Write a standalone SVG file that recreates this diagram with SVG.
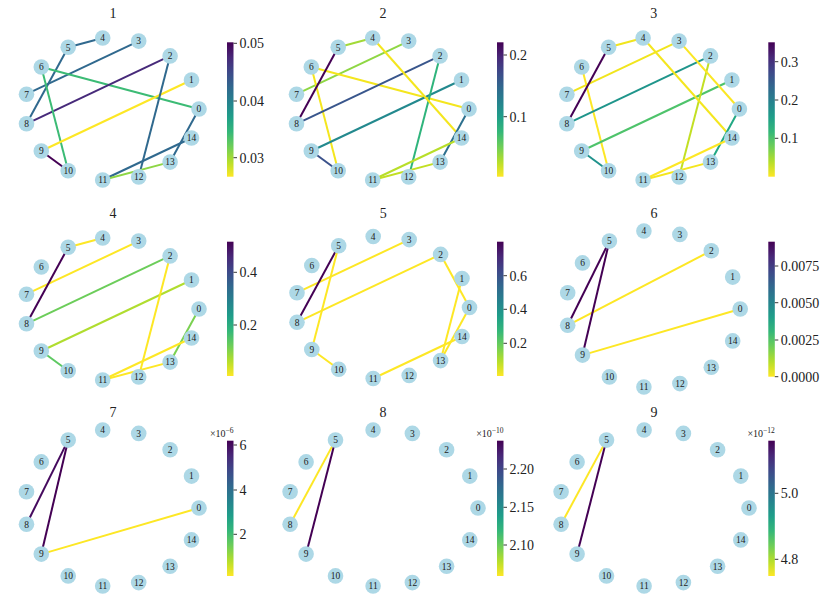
<svg xmlns="http://www.w3.org/2000/svg" width="830" height="602" viewBox="0 0 830 602">
<defs>
<linearGradient id="vir" x1="0" y1="0" x2="0" y2="1">
<stop offset="0" stop-color="#440154"/><stop offset="0.111" stop-color="#482878"/><stop offset="0.222" stop-color="#3e4989"/><stop offset="0.333" stop-color="#31688e"/><stop offset="0.444" stop-color="#26828e"/><stop offset="0.556" stop-color="#1f9e89"/><stop offset="0.667" stop-color="#35b779"/><stop offset="0.778" stop-color="#6ece58"/><stop offset="0.889" stop-color="#b5de2b"/><stop offset="1" stop-color="#fde725"/>
</linearGradient>
<style>
.node circle{fill:#add8e6}
.node text{font-family:"Liberation Serif","DejaVu Serif",serif;font-size:9.5px;fill:#222;text-anchor:middle}
.edges line{stroke-width:2;stroke-linecap:butt}
.title{font-family:"Liberation Serif","DejaVu Serif",serif;font-size:14px;fill:#222;text-anchor:middle}
.cbar text{font-family:"Liberation Serif","DejaVu Serif",serif;font-size:14px;fill:#222}
.cbar .tick{stroke:#222;stroke-width:0.9;fill:none}
.cbar text.off{font-size:10px;text-anchor:end}
</style>
</defs>
<rect width="830" height="602" fill="#fff"/>

<text class="title" x="113" y="18.3">1</text>
<text class="title" x="383" y="18.3">2</text>
<text class="title" x="653.7" y="18.3">3</text>
<text class="title" x="113" y="217.7">4</text>
<text class="title" x="383.3" y="217.7">5</text>
<text class="title" x="654" y="217.7">6</text>
<text class="title" x="113" y="416.7">7</text>
<text class="title" x="383" y="416.7">8</text>
<text class="title" x="654" y="416.7">9</text>

<!-- Panel 1 -->
<g id="panel1" transform="translate(111.8,109)">
<g id="p1-edges" class="edges">
<line x1="-9.1" y1="-71" x2="-43.6" y2="-61.8" stroke="#30698e"/>
<line x1="26.9" y1="-67.9" x2="-85.3" y2="-14.8" stroke="#30698e"/>
<line x1="-43.6" y1="-61.8" x2="-85.3" y2="14.8" stroke="#30698e"/>
<line x1="-70.5" y1="-42" x2="87.2" y2="0" stroke="#3cbb75"/>
<line x1="58.3" y1="-53.1" x2="-85.3" y2="14.8" stroke="#472a7a"/>
<line x1="-70.5" y1="-42" x2="-43.6" y2="61.8" stroke="#3cbb75"/>
<line x1="79.7" y1="-29" x2="-70.5" y2="42" stroke="#fde725"/>
<line x1="-70.5" y1="42" x2="-43.6" y2="61.8" stroke="#440154"/>
<line x1="58.3" y1="-53.1" x2="26.9" y2="67.9" stroke="#30698e"/>
<line x1="87.2" y1="0" x2="58.3" y2="53.1" stroke="#30698e"/>
<line x1="79.7" y1="29" x2="-9.1" y2="71" stroke="#30698e"/>
<line x1="-9.1" y1="71" x2="58.3" y2="53.1" stroke="#8ed645"/>
</g>
<g id="p1-n0" class="node"><circle cx="87.2" cy="0" r="7.8"/><text x="87.2" y="3.3">0</text></g>
<g id="p1-n1" class="node"><circle cx="79.7" cy="-29" r="7.8"/><text x="79.7" y="-25.7">1</text></g>
<g id="p1-n2" class="node"><circle cx="58.3" cy="-53.1" r="7.8"/><text x="58.3" y="-49.8">2</text></g>
<g id="p1-n3" class="node"><circle cx="26.9" cy="-67.9" r="7.8"/><text x="26.9" y="-64.6">3</text></g>
<g id="p1-n4" class="node"><circle cx="-9.1" cy="-71" r="7.8"/><text x="-9.1" y="-67.7">4</text></g>
<g id="p1-n5" class="node"><circle cx="-43.6" cy="-61.8" r="7.8"/><text x="-43.6" y="-58.5">5</text></g>
<g id="p1-n6" class="node"><circle cx="-70.5" cy="-42" r="7.8"/><text x="-70.5" y="-38.7">6</text></g>
<g id="p1-n7" class="node"><circle cx="-85.3" cy="-14.8" r="7.8"/><text x="-85.3" y="-11.5">7</text></g>
<g id="p1-n8" class="node"><circle cx="-85.3" cy="14.8" r="7.8"/><text x="-85.3" y="18.1">8</text></g>
<g id="p1-n9" class="node"><circle cx="-70.5" cy="42" r="7.8"/><text x="-70.5" y="45.3">9</text></g>
<g id="p1-n10" class="node"><circle cx="-43.6" cy="61.8" r="7.8"/><text x="-43.6" y="65.1">10</text></g>
<g id="p1-n11" class="node"><circle cx="-9.1" cy="71" r="7.8"/><text x="-9.1" y="74.3">11</text></g>
<g id="p1-n12" class="node"><circle cx="26.9" cy="67.9" r="7.8"/><text x="26.9" y="71.2">12</text></g>
<g id="p1-n13" class="node"><circle cx="58.3" cy="53.1" r="7.8"/><text x="58.3" y="56.4">13</text></g>
<g id="p1-n14" class="node"><circle cx="79.7" cy="29" r="7.8"/><text x="79.7" y="32.3">14</text></g>
</g>

<!-- Panel 2 -->
<g id="panel2" transform="translate(381.8,109)">
<g id="p2-edges" class="edges">
<line x1="-9.1" y1="-71" x2="-43.6" y2="-61.8" stroke="#a2da37"/>
<line x1="26.9" y1="-67.9" x2="-85.3" y2="-14.8" stroke="#8fd744"/>
<line x1="-70.5" y1="-42" x2="87.2" y2="0" stroke="#f4e61e"/>
<line x1="-70.5" y1="-42" x2="-43.6" y2="61.8" stroke="#f4e61e"/>
<line x1="-43.6" y1="-61.8" x2="-85.3" y2="14.8" stroke="#440154"/>
<line x1="58.3" y1="-53.1" x2="-85.3" y2="14.8" stroke="#39568c"/>
<line x1="79.7" y1="-29" x2="-70.5" y2="42" stroke="#23898e"/>
<line x1="-70.5" y1="42" x2="-43.6" y2="61.8" stroke="#3b528b"/>
<line x1="58.3" y1="-53.1" x2="26.9" y2="67.9" stroke="#2fb47c"/>
<line x1="-9.1" y1="-71" x2="79.7" y2="29" stroke="#f4e61e"/>
<line x1="87.2" y1="0" x2="58.3" y2="53.1" stroke="#2d708e"/>
<line x1="79.7" y1="29" x2="-9.1" y2="71" stroke="#b8de29"/>
<line x1="-9.1" y1="71" x2="58.3" y2="53.1" stroke="#c2df23"/>
</g>
<g id="p2-n0" class="node"><circle cx="87.2" cy="0" r="7.8"/><text x="87.2" y="3.3">0</text></g>
<g id="p2-n1" class="node"><circle cx="79.7" cy="-29" r="7.8"/><text x="79.7" y="-25.7">1</text></g>
<g id="p2-n2" class="node"><circle cx="58.3" cy="-53.1" r="7.8"/><text x="58.3" y="-49.8">2</text></g>
<g id="p2-n3" class="node"><circle cx="26.9" cy="-67.9" r="7.8"/><text x="26.9" y="-64.6">3</text></g>
<g id="p2-n4" class="node"><circle cx="-9.1" cy="-71" r="7.8"/><text x="-9.1" y="-67.7">4</text></g>
<g id="p2-n5" class="node"><circle cx="-43.6" cy="-61.8" r="7.8"/><text x="-43.6" y="-58.5">5</text></g>
<g id="p2-n6" class="node"><circle cx="-70.5" cy="-42" r="7.8"/><text x="-70.5" y="-38.7">6</text></g>
<g id="p2-n7" class="node"><circle cx="-85.3" cy="-14.8" r="7.8"/><text x="-85.3" y="-11.5">7</text></g>
<g id="p2-n8" class="node"><circle cx="-85.3" cy="14.8" r="7.8"/><text x="-85.3" y="18.1">8</text></g>
<g id="p2-n9" class="node"><circle cx="-70.5" cy="42" r="7.8"/><text x="-70.5" y="45.3">9</text></g>
<g id="p2-n10" class="node"><circle cx="-43.6" cy="61.8" r="7.8"/><text x="-43.6" y="65.1">10</text></g>
<g id="p2-n11" class="node"><circle cx="-9.1" cy="71" r="7.8"/><text x="-9.1" y="74.3">11</text></g>
<g id="p2-n12" class="node"><circle cx="26.9" cy="67.9" r="7.8"/><text x="26.9" y="71.2">12</text></g>
<g id="p2-n13" class="node"><circle cx="58.3" cy="53.1" r="7.8"/><text x="58.3" y="56.4">13</text></g>
<g id="p2-n14" class="node"><circle cx="79.7" cy="29" r="7.8"/><text x="79.7" y="32.3">14</text></g>
</g>

<!-- Panel 3 -->
<g id="panel3" transform="translate(652.2,109)">
<g id="p3-edges" class="edges">
<line x1="-9.1" y1="-71" x2="-43.6" y2="-61.8" stroke="#f1e51d"/>
<line x1="26.9" y1="-67.9" x2="-85.3" y2="-14.8" stroke="#f1e51d"/>
<line x1="-70.5" y1="-42" x2="-43.6" y2="61.8" stroke="#fde725"/>
<line x1="-43.6" y1="-61.8" x2="-85.3" y2="14.8" stroke="#440154"/>
<line x1="58.3" y1="-53.1" x2="-85.3" y2="14.8" stroke="#1f958b"/>
<line x1="79.7" y1="-29" x2="-70.5" y2="42" stroke="#4ec36b"/>
<line x1="-70.5" y1="42" x2="-43.6" y2="61.8" stroke="#20928c"/>
<line x1="58.3" y1="-53.1" x2="26.9" y2="67.9" stroke="#c2df23"/>
<line x1="-9.1" y1="-71" x2="79.7" y2="29" stroke="#f4e61e"/>
<line x1="26.9" y1="-67.9" x2="87.2" y2="0" stroke="#fbe723"/>
<line x1="87.2" y1="0" x2="58.3" y2="53.1" stroke="#22a884"/>
<line x1="79.7" y1="29" x2="-9.1" y2="71" stroke="#fde725"/>
<line x1="-9.1" y1="71" x2="58.3" y2="53.1" stroke="#f4e61e"/>
</g>
<g id="p3-n0" class="node"><circle cx="87.2" cy="0" r="7.8"/><text x="87.2" y="3.3">0</text></g>
<g id="p3-n1" class="node"><circle cx="79.7" cy="-29" r="7.8"/><text x="79.7" y="-25.7">1</text></g>
<g id="p3-n2" class="node"><circle cx="58.3" cy="-53.1" r="7.8"/><text x="58.3" y="-49.8">2</text></g>
<g id="p3-n3" class="node"><circle cx="26.9" cy="-67.9" r="7.8"/><text x="26.9" y="-64.6">3</text></g>
<g id="p3-n4" class="node"><circle cx="-9.1" cy="-71" r="7.8"/><text x="-9.1" y="-67.7">4</text></g>
<g id="p3-n5" class="node"><circle cx="-43.6" cy="-61.8" r="7.8"/><text x="-43.6" y="-58.5">5</text></g>
<g id="p3-n6" class="node"><circle cx="-70.5" cy="-42" r="7.8"/><text x="-70.5" y="-38.7">6</text></g>
<g id="p3-n7" class="node"><circle cx="-85.3" cy="-14.8" r="7.8"/><text x="-85.3" y="-11.5">7</text></g>
<g id="p3-n8" class="node"><circle cx="-85.3" cy="14.8" r="7.8"/><text x="-85.3" y="18.1">8</text></g>
<g id="p3-n9" class="node"><circle cx="-70.5" cy="42" r="7.8"/><text x="-70.5" y="45.3">9</text></g>
<g id="p3-n10" class="node"><circle cx="-43.6" cy="61.8" r="7.8"/><text x="-43.6" y="65.1">10</text></g>
<g id="p3-n11" class="node"><circle cx="-9.1" cy="71" r="7.8"/><text x="-9.1" y="74.3">11</text></g>
<g id="p3-n12" class="node"><circle cx="26.9" cy="67.9" r="7.8"/><text x="26.9" y="71.2">12</text></g>
<g id="p3-n13" class="node"><circle cx="58.3" cy="53.1" r="7.8"/><text x="58.3" y="56.4">13</text></g>
<g id="p3-n14" class="node"><circle cx="79.7" cy="29" r="7.8"/><text x="79.7" y="32.3">14</text></g>
</g>

<!-- Panel 4 -->
<g id="panel4" transform="translate(111.8,309)">
<g id="p4-edges" class="edges">
<line x1="-9.1" y1="-71" x2="-43.6" y2="-61.8" stroke="#fde725"/>
<line x1="26.9" y1="-67.9" x2="-85.3" y2="-14.8" stroke="#fde725"/>
<line x1="-43.6" y1="-61.8" x2="-85.3" y2="14.8" stroke="#440154"/>
<line x1="58.3" y1="-53.1" x2="-85.3" y2="14.8" stroke="#6ccd5a"/>
<line x1="79.7" y1="-29" x2="-70.5" y2="42" stroke="#b0dd2f"/>
<line x1="-70.5" y1="42" x2="-43.6" y2="61.8" stroke="#5ec962"/>
<line x1="58.3" y1="-53.1" x2="26.9" y2="67.9" stroke="#fde725"/>
<line x1="87.2" y1="0" x2="58.3" y2="53.1" stroke="#7ad151"/>
<line x1="79.7" y1="29" x2="-9.1" y2="71" stroke="#fde725"/>
<line x1="-9.1" y1="71" x2="58.3" y2="53.1" stroke="#fde725"/>
</g>
<g id="p4-n0" class="node"><circle cx="87.2" cy="0" r="7.8"/><text x="87.2" y="3.3">0</text></g>
<g id="p4-n1" class="node"><circle cx="79.7" cy="-29" r="7.8"/><text x="79.7" y="-25.7">1</text></g>
<g id="p4-n2" class="node"><circle cx="58.3" cy="-53.1" r="7.8"/><text x="58.3" y="-49.8">2</text></g>
<g id="p4-n3" class="node"><circle cx="26.9" cy="-67.9" r="7.8"/><text x="26.9" y="-64.6">3</text></g>
<g id="p4-n4" class="node"><circle cx="-9.1" cy="-71" r="7.8"/><text x="-9.1" y="-67.7">4</text></g>
<g id="p4-n5" class="node"><circle cx="-43.6" cy="-61.8" r="7.8"/><text x="-43.6" y="-58.5">5</text></g>
<g id="p4-n6" class="node"><circle cx="-70.5" cy="-42" r="7.8"/><text x="-70.5" y="-38.7">6</text></g>
<g id="p4-n7" class="node"><circle cx="-85.3" cy="-14.8" r="7.8"/><text x="-85.3" y="-11.5">7</text></g>
<g id="p4-n8" class="node"><circle cx="-85.3" cy="14.8" r="7.8"/><text x="-85.3" y="18.1">8</text></g>
<g id="p4-n9" class="node"><circle cx="-70.5" cy="42" r="7.8"/><text x="-70.5" y="45.3">9</text></g>
<g id="p4-n10" class="node"><circle cx="-43.6" cy="61.8" r="7.8"/><text x="-43.6" y="65.1">10</text></g>
<g id="p4-n11" class="node"><circle cx="-9.1" cy="71" r="7.8"/><text x="-9.1" y="74.3">11</text></g>
<g id="p4-n12" class="node"><circle cx="26.9" cy="67.9" r="7.8"/><text x="26.9" y="71.2">12</text></g>
<g id="p4-n13" class="node"><circle cx="58.3" cy="53.1" r="7.8"/><text x="58.3" y="56.4">13</text></g>
<g id="p4-n14" class="node"><circle cx="79.7" cy="29" r="7.8"/><text x="79.7" y="32.3">14</text></g>
</g>

<!-- Panel 5 -->
<g id="panel5" transform="translate(382.3,307.5)">
<g id="p5-edges" class="edges">
<line x1="26.9" y1="-67.9" x2="-85.3" y2="-14.8" stroke="#fde725"/>
<line x1="58.3" y1="-53.1" x2="-85.3" y2="14.8" stroke="#fde725"/>
<line x1="-43.6" y1="-61.8" x2="-85.3" y2="14.8" stroke="#440154"/>
<line x1="-43.6" y1="-61.8" x2="-70.5" y2="42" stroke="#fde725"/>
<line x1="-70.5" y1="42" x2="-43.6" y2="61.8" stroke="#fde725"/>
<line x1="58.3" y1="-53.1" x2="87.2" y2="0" stroke="#fde725"/>
<line x1="79.7" y1="-29" x2="58.3" y2="53.1" stroke="#fde725"/>
<line x1="87.2" y1="0" x2="58.3" y2="53.1" stroke="#fde725"/>
<line x1="79.7" y1="29" x2="-9.1" y2="71" stroke="#fde725"/>
</g>
<g id="p5-n0" class="node"><circle cx="87.2" cy="0" r="7.8"/><text x="87.2" y="3.3">0</text></g>
<g id="p5-n1" class="node"><circle cx="79.7" cy="-29" r="7.8"/><text x="79.7" y="-25.7">1</text></g>
<g id="p5-n2" class="node"><circle cx="58.3" cy="-53.1" r="7.8"/><text x="58.3" y="-49.8">2</text></g>
<g id="p5-n3" class="node"><circle cx="26.9" cy="-67.9" r="7.8"/><text x="26.9" y="-64.6">3</text></g>
<g id="p5-n4" class="node"><circle cx="-9.1" cy="-71" r="7.8"/><text x="-9.1" y="-67.7">4</text></g>
<g id="p5-n5" class="node"><circle cx="-43.6" cy="-61.8" r="7.8"/><text x="-43.6" y="-58.5">5</text></g>
<g id="p5-n6" class="node"><circle cx="-70.5" cy="-42" r="7.8"/><text x="-70.5" y="-38.7">6</text></g>
<g id="p5-n7" class="node"><circle cx="-85.3" cy="-14.8" r="7.8"/><text x="-85.3" y="-11.5">7</text></g>
<g id="p5-n8" class="node"><circle cx="-85.3" cy="14.8" r="7.8"/><text x="-85.3" y="18.1">8</text></g>
<g id="p5-n9" class="node"><circle cx="-70.5" cy="42" r="7.8"/><text x="-70.5" y="45.3">9</text></g>
<g id="p5-n10" class="node"><circle cx="-43.6" cy="61.8" r="7.8"/><text x="-43.6" y="65.1">10</text></g>
<g id="p5-n11" class="node"><circle cx="-9.1" cy="71" r="7.8"/><text x="-9.1" y="74.3">11</text></g>
<g id="p5-n12" class="node"><circle cx="26.9" cy="67.9" r="7.8"/><text x="26.9" y="71.2">12</text></g>
<g id="p5-n13" class="node"><circle cx="58.3" cy="53.1" r="7.8"/><text x="58.3" y="56.4">13</text></g>
<g id="p5-n14" class="node"><circle cx="79.7" cy="29" r="7.8"/><text x="79.7" y="32.3">14</text></g>
</g>

<!-- Panel 6 -->
<g id="panel6" transform="translate(653,309)">
<g id="p6-edges" class="edges">
<line x1="58.3" y1="-58.3" x2="-85.3" y2="16.3" stroke="#fde725"/>
<line x1="87.2" y1="0" x2="-70.5" y2="46.1" stroke="#fde725"/>
<line x1="-43.6" y1="-67.9" x2="-85.3" y2="16.3" stroke="#440154"/>
<line x1="-43.6" y1="-67.9" x2="-70.5" y2="46.1" stroke="#440154"/>
</g>
<g id="p6-n0" class="node"><circle cx="87.2" cy="0" r="7.8"/><text x="87.2" y="3.3">0</text></g>
<g id="p6-n1" class="node"><circle cx="79.7" cy="-31.9" r="7.8"/><text x="79.7" y="-28.6">1</text></g>
<g id="p6-n2" class="node"><circle cx="58.3" cy="-58.3" r="7.8"/><text x="58.3" y="-55">2</text></g>
<g id="p6-n3" class="node"><circle cx="26.9" cy="-74.6" r="7.8"/><text x="26.9" y="-71.3">3</text></g>
<g id="p6-n4" class="node"><circle cx="-9.1" cy="-78" r="7.8"/><text x="-9.1" y="-74.7">4</text></g>
<g id="p6-n5" class="node"><circle cx="-43.6" cy="-67.9" r="7.8"/><text x="-43.6" y="-64.6">5</text></g>
<g id="p6-n6" class="node"><circle cx="-70.5" cy="-46.1" r="7.8"/><text x="-70.5" y="-42.8">6</text></g>
<g id="p6-n7" class="node"><circle cx="-85.3" cy="-16.3" r="7.8"/><text x="-85.3" y="-13">7</text></g>
<g id="p6-n8" class="node"><circle cx="-85.3" cy="16.3" r="7.8"/><text x="-85.3" y="19.6">8</text></g>
<g id="p6-n9" class="node"><circle cx="-70.5" cy="46.1" r="7.8"/><text x="-70.5" y="49.4">9</text></g>
<g id="p6-n10" class="node"><circle cx="-43.6" cy="67.9" r="7.8"/><text x="-43.6" y="71.2">10</text></g>
<g id="p6-n11" class="node"><circle cx="-9.1" cy="78" r="7.8"/><text x="-9.1" y="81.3">11</text></g>
<g id="p6-n12" class="node"><circle cx="26.9" cy="74.6" r="7.8"/><text x="26.9" y="77.9">12</text></g>
<g id="p6-n13" class="node"><circle cx="58.3" cy="58.3" r="7.8"/><text x="58.3" y="61.6">13</text></g>
<g id="p6-n14" class="node"><circle cx="79.7" cy="31.9" r="7.8"/><text x="79.7" y="35.2">14</text></g>
</g>

<!-- Panel 7 -->
<g id="panel7" transform="translate(111.8,508)">
<g id="p7-edges" class="edges">
<line x1="87.2" y1="0" x2="-70.5" y2="46.1" stroke="#fde725"/>
<line x1="-43.6" y1="-67.9" x2="-85.3" y2="16.3" stroke="#450a5e"/>
<line x1="-43.6" y1="-67.9" x2="-70.5" y2="46.1" stroke="#440154"/>
</g>
<g id="p7-n0" class="node"><circle cx="87.2" cy="0" r="7.8"/><text x="87.2" y="3.3">0</text></g>
<g id="p7-n1" class="node"><circle cx="79.7" cy="-31.9" r="7.8"/><text x="79.7" y="-28.6">1</text></g>
<g id="p7-n2" class="node"><circle cx="58.3" cy="-58.3" r="7.8"/><text x="58.3" y="-55">2</text></g>
<g id="p7-n3" class="node"><circle cx="26.9" cy="-74.6" r="7.8"/><text x="26.9" y="-71.3">3</text></g>
<g id="p7-n4" class="node"><circle cx="-9.1" cy="-78" r="7.8"/><text x="-9.1" y="-74.7">4</text></g>
<g id="p7-n5" class="node"><circle cx="-43.6" cy="-67.9" r="7.8"/><text x="-43.6" y="-64.6">5</text></g>
<g id="p7-n6" class="node"><circle cx="-70.5" cy="-46.1" r="7.8"/><text x="-70.5" y="-42.8">6</text></g>
<g id="p7-n7" class="node"><circle cx="-85.3" cy="-16.3" r="7.8"/><text x="-85.3" y="-13">7</text></g>
<g id="p7-n8" class="node"><circle cx="-85.3" cy="16.3" r="7.8"/><text x="-85.3" y="19.6">8</text></g>
<g id="p7-n9" class="node"><circle cx="-70.5" cy="46.1" r="7.8"/><text x="-70.5" y="49.4">9</text></g>
<g id="p7-n10" class="node"><circle cx="-43.6" cy="67.9" r="7.8"/><text x="-43.6" y="71.2">10</text></g>
<g id="p7-n11" class="node"><circle cx="-9.1" cy="78" r="7.8"/><text x="-9.1" y="81.3">11</text></g>
<g id="p7-n12" class="node"><circle cx="26.9" cy="74.6" r="7.8"/><text x="26.9" y="77.9">12</text></g>
<g id="p7-n13" class="node"><circle cx="58.3" cy="58.3" r="7.8"/><text x="58.3" y="61.6">13</text></g>
<g id="p7-n14" class="node"><circle cx="79.7" cy="31.9" r="7.8"/><text x="79.7" y="35.2">14</text></g>
</g>

<!-- Panel 8 -->
<g id="panel8" transform="translate(383,508)">
<g id="p8-edges" class="edges">
<line x1="-47.5" y1="-67.9" x2="-92.9" y2="16.3" stroke="#fde725"/>
<line x1="-47.5" y1="-67.9" x2="-76.9" y2="46.1" stroke="#440154"/>
</g>
<g id="p8-n0" class="node"><circle cx="95" cy="0" r="7.8"/><text x="95" y="3.3">0</text></g>
<g id="p8-n1" class="node"><circle cx="86.8" cy="-31.9" r="7.8"/><text x="86.8" y="-28.6">1</text></g>
<g id="p8-n2" class="node"><circle cx="63.6" cy="-58.3" r="7.8"/><text x="63.6" y="-55">2</text></g>
<g id="p8-n3" class="node"><circle cx="29.4" cy="-74.6" r="7.8"/><text x="29.4" y="-71.3">3</text></g>
<g id="p8-n4" class="node"><circle cx="-9.9" cy="-78" r="7.8"/><text x="-9.9" y="-74.7">4</text></g>
<g id="p8-n5" class="node"><circle cx="-47.5" cy="-67.9" r="7.8"/><text x="-47.5" y="-64.6">5</text></g>
<g id="p8-n6" class="node"><circle cx="-76.9" cy="-46.1" r="7.8"/><text x="-76.9" y="-42.8">6</text></g>
<g id="p8-n7" class="node"><circle cx="-92.9" cy="-16.3" r="7.8"/><text x="-92.9" y="-13">7</text></g>
<g id="p8-n8" class="node"><circle cx="-92.9" cy="16.3" r="7.8"/><text x="-92.9" y="19.6">8</text></g>
<g id="p8-n9" class="node"><circle cx="-76.9" cy="46.1" r="7.8"/><text x="-76.9" y="49.4">9</text></g>
<g id="p8-n10" class="node"><circle cx="-47.5" cy="67.9" r="7.8"/><text x="-47.5" y="71.2">10</text></g>
<g id="p8-n11" class="node"><circle cx="-9.9" cy="78" r="7.8"/><text x="-9.9" y="81.3">11</text></g>
<g id="p8-n12" class="node"><circle cx="29.4" cy="74.6" r="7.8"/><text x="29.4" y="77.9">12</text></g>
<g id="p8-n13" class="node"><circle cx="63.6" cy="58.3" r="7.8"/><text x="63.6" y="61.6">13</text></g>
<g id="p8-n14" class="node"><circle cx="86.8" cy="31.9" r="7.8"/><text x="86.8" y="35.2">14</text></g>
</g>

<!-- Panel 9 -->
<g id="panel9" transform="translate(654,508)">
<g id="p9-edges" class="edges">
<line x1="-47.5" y1="-67.9" x2="-92.9" y2="16.3" stroke="#fde725"/>
<line x1="-47.5" y1="-67.9" x2="-76.9" y2="46.1" stroke="#440154"/>
</g>
<g id="p9-n0" class="node"><circle cx="95" cy="0" r="7.8"/><text x="95" y="3.3">0</text></g>
<g id="p9-n1" class="node"><circle cx="86.8" cy="-31.9" r="7.8"/><text x="86.8" y="-28.6">1</text></g>
<g id="p9-n2" class="node"><circle cx="63.6" cy="-58.3" r="7.8"/><text x="63.6" y="-55">2</text></g>
<g id="p9-n3" class="node"><circle cx="29.4" cy="-74.6" r="7.8"/><text x="29.4" y="-71.3">3</text></g>
<g id="p9-n4" class="node"><circle cx="-9.9" cy="-78" r="7.8"/><text x="-9.9" y="-74.7">4</text></g>
<g id="p9-n5" class="node"><circle cx="-47.5" cy="-67.9" r="7.8"/><text x="-47.5" y="-64.6">5</text></g>
<g id="p9-n6" class="node"><circle cx="-76.9" cy="-46.1" r="7.8"/><text x="-76.9" y="-42.8">6</text></g>
<g id="p9-n7" class="node"><circle cx="-92.9" cy="-16.3" r="7.8"/><text x="-92.9" y="-13">7</text></g>
<g id="p9-n8" class="node"><circle cx="-92.9" cy="16.3" r="7.8"/><text x="-92.9" y="19.6">8</text></g>
<g id="p9-n9" class="node"><circle cx="-76.9" cy="46.1" r="7.8"/><text x="-76.9" y="49.4">9</text></g>
<g id="p9-n10" class="node"><circle cx="-47.5" cy="67.9" r="7.8"/><text x="-47.5" y="71.2">10</text></g>
<g id="p9-n11" class="node"><circle cx="-9.9" cy="78" r="7.8"/><text x="-9.9" y="81.3">11</text></g>
<g id="p9-n12" class="node"><circle cx="29.4" cy="74.6" r="7.8"/><text x="29.4" y="77.9">12</text></g>
<g id="p9-n13" class="node"><circle cx="63.6" cy="58.3" r="7.8"/><text x="63.6" y="61.6">13</text></g>
<g id="p9-n14" class="node"><circle cx="86.8" cy="31.9" r="7.8"/><text x="86.8" y="35.2">14</text></g>
</g>

<!-- Colorbars -->
<g id="cb1" class="cbar">
<rect x="227" y="42.3" width="6.5" height="134.4" fill="url(#vir)"/>
<path class="tick" d="M233.5 43.3h3.5M233.5 101h3.5M233.5 157.7h3.5"/>
<text x="239.5" y="48.3">0.05</text><text x="239.5" y="106">0.04</text><text x="239.5" y="162.7">0.03</text>
</g>
<g id="cb2" class="cbar">
<rect x="497" y="42.3" width="6.5" height="134.4" fill="url(#vir)"/>
<path class="tick" d="M503.5 55h3.5M503.5 116.7h3.5"/>
<text x="509.5" y="60">0.2</text><text x="509.5" y="121.7">0.1</text>
</g>
<g id="cb3" class="cbar">
<rect x="768.3" y="42.3" width="6.5" height="134.4" fill="url(#vir)"/>
<path class="tick" d="M774.8 61.7h3.5M774.8 100h3.5M774.8 138.3h3.5"/>
<text x="780.8" y="66.7">0.3</text><text x="780.8" y="105">0.2</text><text x="780.8" y="143.3">0.1</text>
</g>
<g id="cb4" class="cbar">
<rect x="227" y="241.7" width="6.5" height="134.3" fill="url(#vir)"/>
<path class="tick" d="M233.5 272.3h3.5M233.5 325h3.5"/>
<text x="239.5" y="277.3">0.4</text><text x="239.5" y="330">0.2</text>
</g>
<g id="cb5" class="cbar">
<rect x="497" y="241.7" width="6.5" height="134.3" fill="url(#vir)"/>
<path class="tick" d="M503.5 275.7h3.5M503.5 309.3h3.5M503.5 343.3h3.5"/>
<text x="509.5" y="280.7">0.6</text><text x="509.5" y="314.3">0.4</text><text x="509.5" y="348.3">0.2</text>
</g>
<g id="cb6" class="cbar">
<rect x="768.3" y="241.7" width="6.5" height="135" fill="url(#vir)"/>
<path class="tick" d="M774.8 266h3.5M774.8 302.7h3.5M774.8 340h3.5M774.8 376.7h3.5"/>
<text x="780.8" y="271">0.0075</text><text x="780.8" y="307.7">0.0050</text><text x="780.8" y="345">0.0025</text><text x="780.8" y="381.7">0.0000</text>
</g>
<g id="cb7" class="cbar">
<rect x="227" y="440.7" width="6.5" height="135.3" fill="url(#vir)"/>
<path class="tick" d="M233.5 445h3.5M233.5 490h3.5M233.5 534.3h3.5"/>
<text x="239.5" y="450">6</text><text x="239.5" y="495">4</text><text x="239.5" y="539.3">2</text>
<text class="off" x="233.5" y="437">×10<tspan dy="-4" font-size="7.5">−6</tspan></text>
</g>
<g id="cb8" class="cbar">
<rect x="497" y="440.7" width="6.5" height="135.3" fill="url(#vir)"/>
<path class="tick" d="M503.5 469h3.5M503.5 507.3h3.5M503.5 545h3.5"/>
<text x="509.5" y="474">2.20</text><text x="509.5" y="512.3">2.15</text><text x="509.5" y="550">2.10</text>
<text class="off" x="503.5" y="437">×10<tspan dy="-4" font-size="7.5">−10</tspan></text>
</g>
<g id="cb9" class="cbar">
<rect x="768.3" y="440.7" width="6.5" height="135.3" fill="url(#vir)"/>
<path class="tick" d="M774.8 493.3h3.5M774.8 559.3h3.5"/>
<text x="780.8" y="498.3">5.0</text><text x="780.8" y="564.3">4.8</text>
<text class="off" x="774.8" y="437">×10<tspan dy="-4" font-size="7.5">−12</tspan></text>
</g>
</svg>
